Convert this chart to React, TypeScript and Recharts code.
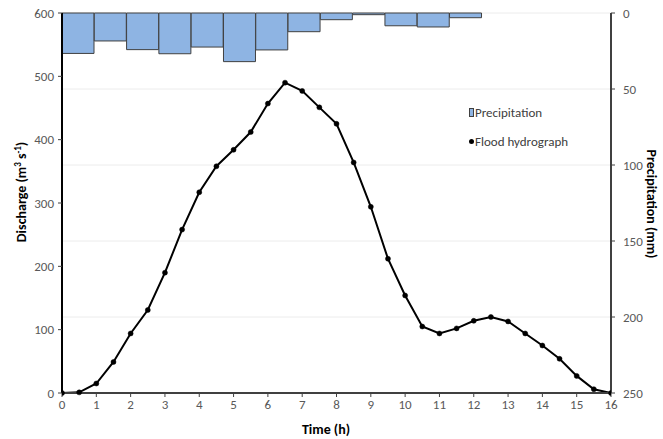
import { ComposedChart, Bar, Line, XAxis, YAxis, CartesianGrid } from "recharts";

// hydrograph, every half hour
const times = [0, 0.5, 1, 1.5, 2, 2.5, 3, 3.5, 4, 4.5, 5, 5.5, 6, 6.5, 7, 7.5, 8, 8.5, 9, 9.5, 10, 10.5, 11, 11.5, 12, 12.5, 13, 13.5, 14, 14.5, 15, 15.5, 16];
const discharge = [0, 1, 15, 49, 94, 131, 190, 258, 317, 358, 384, 412, 457, 490, 477, 451, 425, 364, 294, 212, 154, 105, 94, 102, 114, 120, 113, 94, 75, 54, 27, 6, 0];

// precipitation, one bar per slot on the secondary (top) axis
const slots = ["1", "2", "3", "4", "5", "6", "7", "8", "9", "10", "11", "12", "13", "14", "15", "16", "17"];
const precipitation = [26.6, 18.4, 24.1, 26.8, 22.4, 32, 24.3, 12.3, 4.4, 1.1, 8.4, 9.2, 3.1, null, null, null, null];

const timeTicks = [0, 1, 2, 3, 4, 5, 6, 7, 8, 9, 10, 11, 12, 13, 14, 15, 16];
const dischargeTicks = [0, 100, 200, 300, 400, 500, 600];
const precipTicks = [0, 50, 100, 150, 200, 250];

const hydroData = times.map((t, i) => ({ t, q: discharge[i] }));
const barData = slots.map((slot, i) => ({ slot, p: precipitation[i] }));

const FONT = "Carlito, Lato, 'Liberation Sans', sans-serif";
const tickStyle = { fill: "#595959", fontSize: 13, fontFamily: FONT };

// legend drawn as a plain overlay so it takes no room from the plot
function LegendBox() {
    return (
        <div style={{ position: "absolute", left: 469, top: 98, fontFamily: FONT, fontSize: 13, color: "#404040", lineHeight: "16px" }}>
            <div style={{ display: "flex", alignItems: "center", height: 29 }}>
                <span style={{ display: "inline-block", width: 3, height: 7, background: "#8EB4E3", border: "1px solid #404040", marginRight: 1 }} />
                <span>Precipitation</span>
            </div>
            <div style={{ display: "flex", alignItems: "center", height: 29 }}>
                <span style={{ display: "inline-block", width: 5, height: 5, borderRadius: 3, background: "#000", marginRight: 1 }} />
                <span>Flood hydrograph</span>
            </div>
        </div>
    );
}

export default function App() {
    return (
        <div style={{ position: "relative", width: 663, height: 439, background: "#fff" }}>
            <style>{"body{margin:0}"}</style>
            <ComposedChart width={663} height={439} data={barData} margin={{ top: 13, right: 0, bottom: 0, left: 0 }} barCategoryGap={0}>
                <CartesianGrid yAxisId="p" vertical={false} stroke="#ececec" />
                <XAxis
                    xAxisId="slot"
                    dataKey="slot"
                    type="category"
                    orientation="top"
                    height={0}
                    tick={false}
                    tickLine={false}
                    axisLine={{ stroke: "#404040", strokeWidth: 1.5 }}
                />
                <XAxis
                    xAxisId="time"
                    dataKey="t"
                    type="number"
                    domain={[0, 16]}
                    ticks={timeTicks}
                    allowDataOverflow
                    height={46}
                    tick={tickStyle}
                    tickSize={4}
                    tickMargin={3}
                    tickLine={{ stroke: "#404040" }}
                    axisLine={{ stroke: "#404040", strokeWidth: 2 }}
                    label={{
                        content: () => (
                            <text x={326} y={434} textAnchor="middle" fontFamily={FONT} fontSize={14} fontWeight="bold" fill="#000">
                                Time (h)
                            </text>
                        ),
                    }}
                />
                <YAxis
                    yAxisId="q"
                    domain={[0, 600]}
                    ticks={dischargeTicks}
                    width={62}
                    tick={tickStyle}
                    tickSize={4}
                    tickMargin={4}
                    tickLine={{ stroke: "#404040" }}
                    axisLine={{ stroke: "#000", strokeWidth: 2 }}
                    label={{
                        content: () => (
                            <text x={0} y={0} transform="translate(26,192) rotate(-90)" textAnchor="middle" fontFamily={FONT} fontSize={14} fontWeight="bold" fill="#000">
                                <tspan>Discharge (m</tspan>
                                <tspan dy={-5} fontSize={9}>3</tspan>
                                <tspan dy={5}> s</tspan>
                                <tspan dy={-5} fontSize={9}>-1</tspan>
                                <tspan dy={5}>)</tspan>
                            </text>
                        ),
                    }}
                />
                <YAxis
                    yAxisId="p"
                    orientation="right"
                    domain={[0, 250]}
                    ticks={precipTicks}
                    reversed
                    width={52}
                    tick={tickStyle}
                    tickSize={4}
                    tickMargin={8}
                    tickLine={{ stroke: "#404040" }}
                    axisLine={{ stroke: "#404040", strokeWidth: 2 }}
                    label={{
                        content: () => (
                            <text x={0} y={0} transform="translate(647,204) rotate(90)" textAnchor="middle" fontFamily={FONT} fontSize={14} fontWeight="bold" fill="#000">
                                Precipitation (mm)
                            </text>
                        ),
                    }}
                />
                <Bar
                    xAxisId="slot"
                    yAxisId="p"
                    dataKey="p"
                    name="Precipitation"
                    fill="#8EB4E3"
                    stroke="#404040"
                    strokeWidth={1}
                    isAnimationActive={false}
                />
                <Line
                    xAxisId="time"
                    yAxisId="q"
                    data={hydroData}
                    dataKey="q"
                    name="Flood hydrograph"
                    type="linear"
                    stroke="#000"
                    strokeWidth={2}
                    dot={{ r: 2.5, fill: "#000", stroke: "#000", strokeWidth: 0.5 }}
                    isAnimationActive={false}
                />
            </ComposedChart>
            <LegendBox />
        </div>
    );
}
